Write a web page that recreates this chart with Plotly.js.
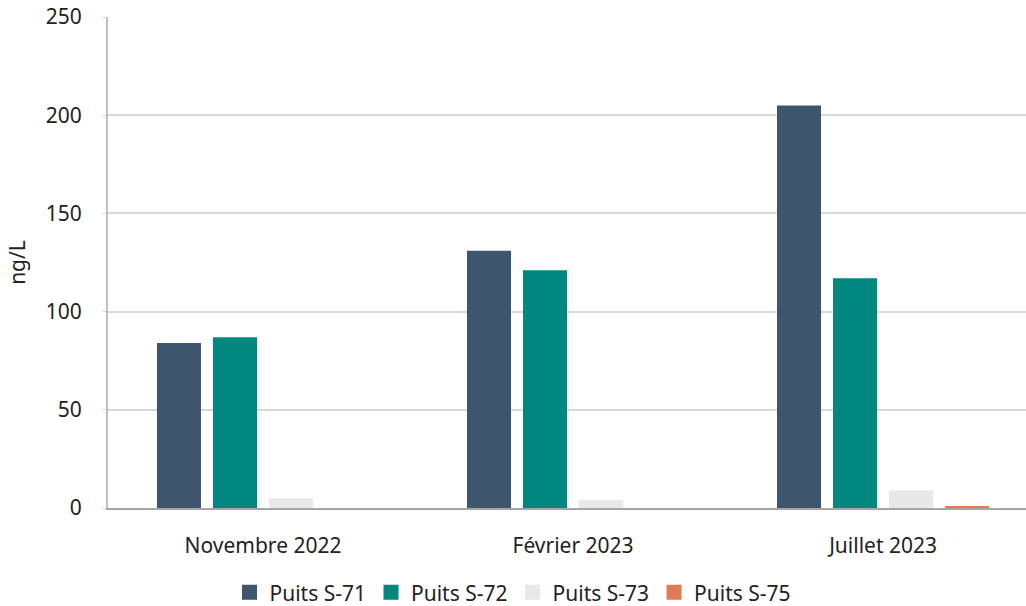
<!DOCTYPE html>
<html>
<head>
<meta charset="utf-8">
<script src="https://cdn.plot.ly/plotly-3.0.1.min.js"></script>
<style>html,body{margin:0;padding:0;background:#fff}#chart{width:1026px;height:606px}</style>
</head>
<body>
<div id="chart"></div>
<script>
const categories = ["Novembre 2022", "Février 2023", "Juillet 2023"];
const seriesNames = ["Puits S-71", "Puits S-72", "Puits S-73", "Puits S-75"];
const s71 = [84, 131, 205];
const s72 = [87, 121, 117];
const s73 = [5, 4, 9];
const s75 = [0, 0, 1];
const yTicks = [0, 50, 100, 150, 200, 250];
const colors = ["#3D566E", "#00877F", "#E8E8E8", "#E07B54"];

const values = [s71, s72, s73, s75];
const traces = values.map((v, i) => ({
  type: "bar",
  name: seriesNames[i],
  x: categories,
  y: v,
  marker: {color: colors[i]},
  legendgroup: seriesNames[i],
  showlegend: false,
  hoverinfo: "x+y+name"
}));
// legend entries with larger square swatches
seriesNames.forEach((n, i) => traces.push({
  type: "scatter", mode: "markers",
  name: n, legendgroup: n,
  x: [null], y: [null],
  marker: {symbol: "square", size: 15, color: colors[i]},
  showlegend: true, hoverinfo: "skip"
}));

const font = "'Noto Sans', 'Open Sans', sans-serif";
const fs = 21;
const layout = {
  width: 1026, height: 606,
  margin: {l: 108, r: 0, t: 17, b: 98},
  paper_bgcolor: "#fff", plot_bgcolor: "#fff",
  font: {family: font, size: fs, color: "#222"},
  barmode: "group",
  bargap: 0.277,
  bargroupgap: 0.214,
  xaxis: {
    type: "category",
    range: [-0.5, 2.461],
    showline: true, linecolor: "#A6A6A6", linewidth: 2,
    ticks: "", showgrid: false, zeroline: false,
    tickfont: {size: fs, color: "#222"},
    ticklabelstandoff: 18
  },
  yaxis: {
    range: [0, 250],
    tickvals: yTicks,
    showline: true, linecolor: "#BFBFBF", linewidth: 2,
    gridcolor: "#D9D9D9", gridwidth: 2,
    zeroline: false,
    ticks: "outside", ticklen: 4, tickcolor: "#D9D9D9",
    tickfont: {size: fs, color: "#222"},
    ticklabelstandoff: 16,
    title: {text: "ng/L", font: {size: fs, color: "#222"}, standoff: 14}
  },
  legend: {
    orientation: "h",
    xref: "container", yref: "container",
    x: 0.5, xanchor: "center",
    y: 0.022, yanchor: "middle",
    font: {size: fs, color: "#222"},
    itemwidth: 30,
    tracegroupgap: 0
  },
  showlegend: true
};

Plotly.newPlot("chart", traces, layout, {displayModeBar: false, staticPlot: true});
</script>
</body>
</html>
